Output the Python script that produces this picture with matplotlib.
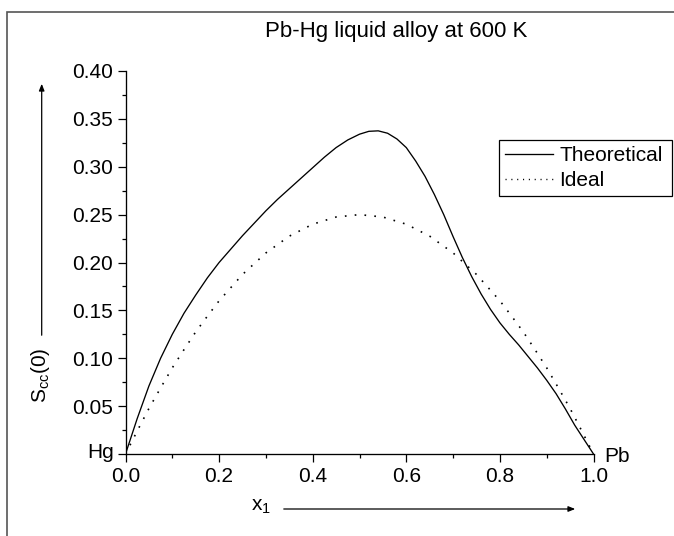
import matplotlib
matplotlib.use("Agg")
import matplotlib.pyplot as plt
from matplotlib.lines import Line2D
from matplotlib.patches import Rectangle, FancyArrowPatch

# --- data ---
x_theo = [0.0, 0.025, 0.05, 0.075, 0.10, 0.125, 0.15, 0.175, 0.20, 0.225,
          0.25, 0.275, 0.30, 0.325, 0.35, 0.375, 0.40, 0.425, 0.45, 0.475,
          0.50, 0.52, 0.54, 0.56, 0.58, 0.60, 0.62, 0.64, 0.66, 0.68,
          0.70, 0.72, 0.74, 0.76, 0.78, 0.80, 0.82, 0.84, 0.86, 0.88,
          0.90, 0.92, 0.94, 0.96, 0.98, 1.0]
y_theo = [0.0, 0.037, 0.071, 0.100, 0.125, 0.147, 0.166, 0.184, 0.200, 0.214,
          0.228, 0.241, 0.254, 0.266, 0.277, 0.288, 0.299, 0.310, 0.320, 0.328,
          0.334, 0.337, 0.3375, 0.335, 0.329, 0.320, 0.306, 0.290, 0.271, 0.250,
          0.227, 0.205, 0.185, 0.167, 0.151, 0.137, 0.125, 0.114, 0.102, 0.090,
          0.077, 0.063, 0.047, 0.030, 0.015, 0.0]

x_ideal = [0.0, 0.025, 0.05, 0.075, 0.10, 0.125, 0.15, 0.175, 0.20, 0.25, 0.30,
           0.35, 0.40, 0.45, 0.50, 0.55, 0.60, 0.65, 0.70, 0.75, 0.80, 0.825,
           0.85, 0.875, 0.90, 0.925, 0.95, 0.975, 1.0]
y_ideal = [0.0, 0.024, 0.0475, 0.069, 0.090, 0.109, 0.1275, 0.144, 0.160, 0.1875,
           0.210, 0.2275, 0.240, 0.2475, 0.250, 0.2475, 0.240, 0.2275, 0.210,
           0.1875, 0.160, 0.144, 0.1275, 0.109, 0.090, 0.069, 0.0475, 0.024, 0.0]

x_ticks = [0.0, 0.2, 0.4, 0.6, 0.8, 1.0]
y_ticks = [0.0, 0.05, 0.10, 0.15, 0.20, 0.25, 0.30, 0.35, 0.40]

plt.rcParams['font.family'] = ['Liberation Sans', 'DejaVu Sans']
plt.rcParams['mathtext.fontset'] = 'custom'
plt.rcParams['mathtext.rm'] = 'Liberation Sans'
plt.rcParams['mathtext.it'] = 'Liberation Sans'
plt.rcParams['lines.scale_dashes'] = False

W, H = 674, 536
fs = 15

fig = plt.figure(figsize=(W / 100, H / 100), dpi=100)
ax = fig.add_axes([125.5 / W, 1 - 454 / H, 468 / W, 383 / H])

ax.plot(x_theo, y_theo, color="black", lw=0.95)
ax.plot(x_ideal, y_ideal, color="black", lw=1.2, dashes=(1.2, 5.9),
        dash_capstyle="butt")

ax.set_xlim(0, 1)
ax.set_ylim(0, 0.40)
ax.set_xticks(x_ticks)
ax.set_xticklabels(["%.1f" % v for v in x_ticks])
ax.set_yticks(y_ticks)
ax.set_yticklabels(["" if v == 0 else "%.2f" % v for v in y_ticks])
ax.set_xticks([0.1, 0.3, 0.5, 0.7, 0.9], minor=True)
ax.set_yticks([0.025 + 0.05 * i for i in range(8)], minor=True)
ax.tick_params(which="major", length=5.5, width=0.9, labelsize=fs, pad=3.5)
ax.tick_params(which="minor", length=3, width=0.9)
for s in ["top", "right"]:
    ax.spines[s].set_visible(False)
for s in ["left", "bottom"]:
    ax.spines[s].set_linewidth(0.95)

# legend
h_theo = Line2D([], [], color="black", lw=0.95)
h_ideal = Line2D([], [], color="black", lw=1.0, dashes=(0.8, 3.4))
leg = ax.legend([h_theo, h_ideal], ["Theoretical", "Ideal"],
                loc="upper left", bbox_to_anchor=(499 / W, 1 - 140 / H, 173 / W, 0.0),
                bbox_transform=fig.transFigure, mode="expand", borderaxespad=0,
                fancybox=False, edgecolor="black", framealpha=1, fontsize=fs,
                handlelength=2.3, handletextpad=0.3, borderpad=0.3,
                labelspacing=0.28)
leg.get_frame().set_linewidth(0.9)

# texts
fig.text(396 / W, 1 - 37 / H, "Pb-Hg liquid alloy at 600 K", ha="center",
         va="baseline", fontsize=16)
fig.text(114 / W, 1 - 458 / H, "Hg", ha="right", va="baseline", fontsize=fs)
fig.text(604 / W, 1 - 462 / H, "Pb", ha="left", va="baseline", fontsize=fs)
fig.text(40 / W, 1 - 375 / H, r"$\mathregular{S_{cc}(0)}$", rotation=90,
         ha="center", va="center", fontsize=fs)
fig.text(261 / W, 1 - 507 / H, r"$\mathregular{x_1}$", ha="center", va="center",
         fontsize=fs)

# arrows next to the axis labels
fig.add_artist(FancyArrowPatch(
    (41.7 / W, 1 - 338 / H), (41.7 / W, 1 - 81 / H), transform=fig.transFigure,
    arrowstyle="-|>,head_length=4,head_width=1.6", color="black", lw=0.9))
fig.add_artist(FancyArrowPatch(
    (281 / W, 1 - 509 / H), (578 / W, 1 - 509 / H), transform=fig.transFigure,
    arrowstyle="-|>,head_length=4,head_width=1.6", color="black", lw=0.9))

# outer frame, cut off at right and bottom
fig.add_artist(Rectangle((7 / W, -0.1), 1.2, 1.1 - 12 / H, transform=fig.transFigure,
                         fill=False, edgecolor="#555555", lw=1.2))

fig.savefig("out.png", dpi=100)
